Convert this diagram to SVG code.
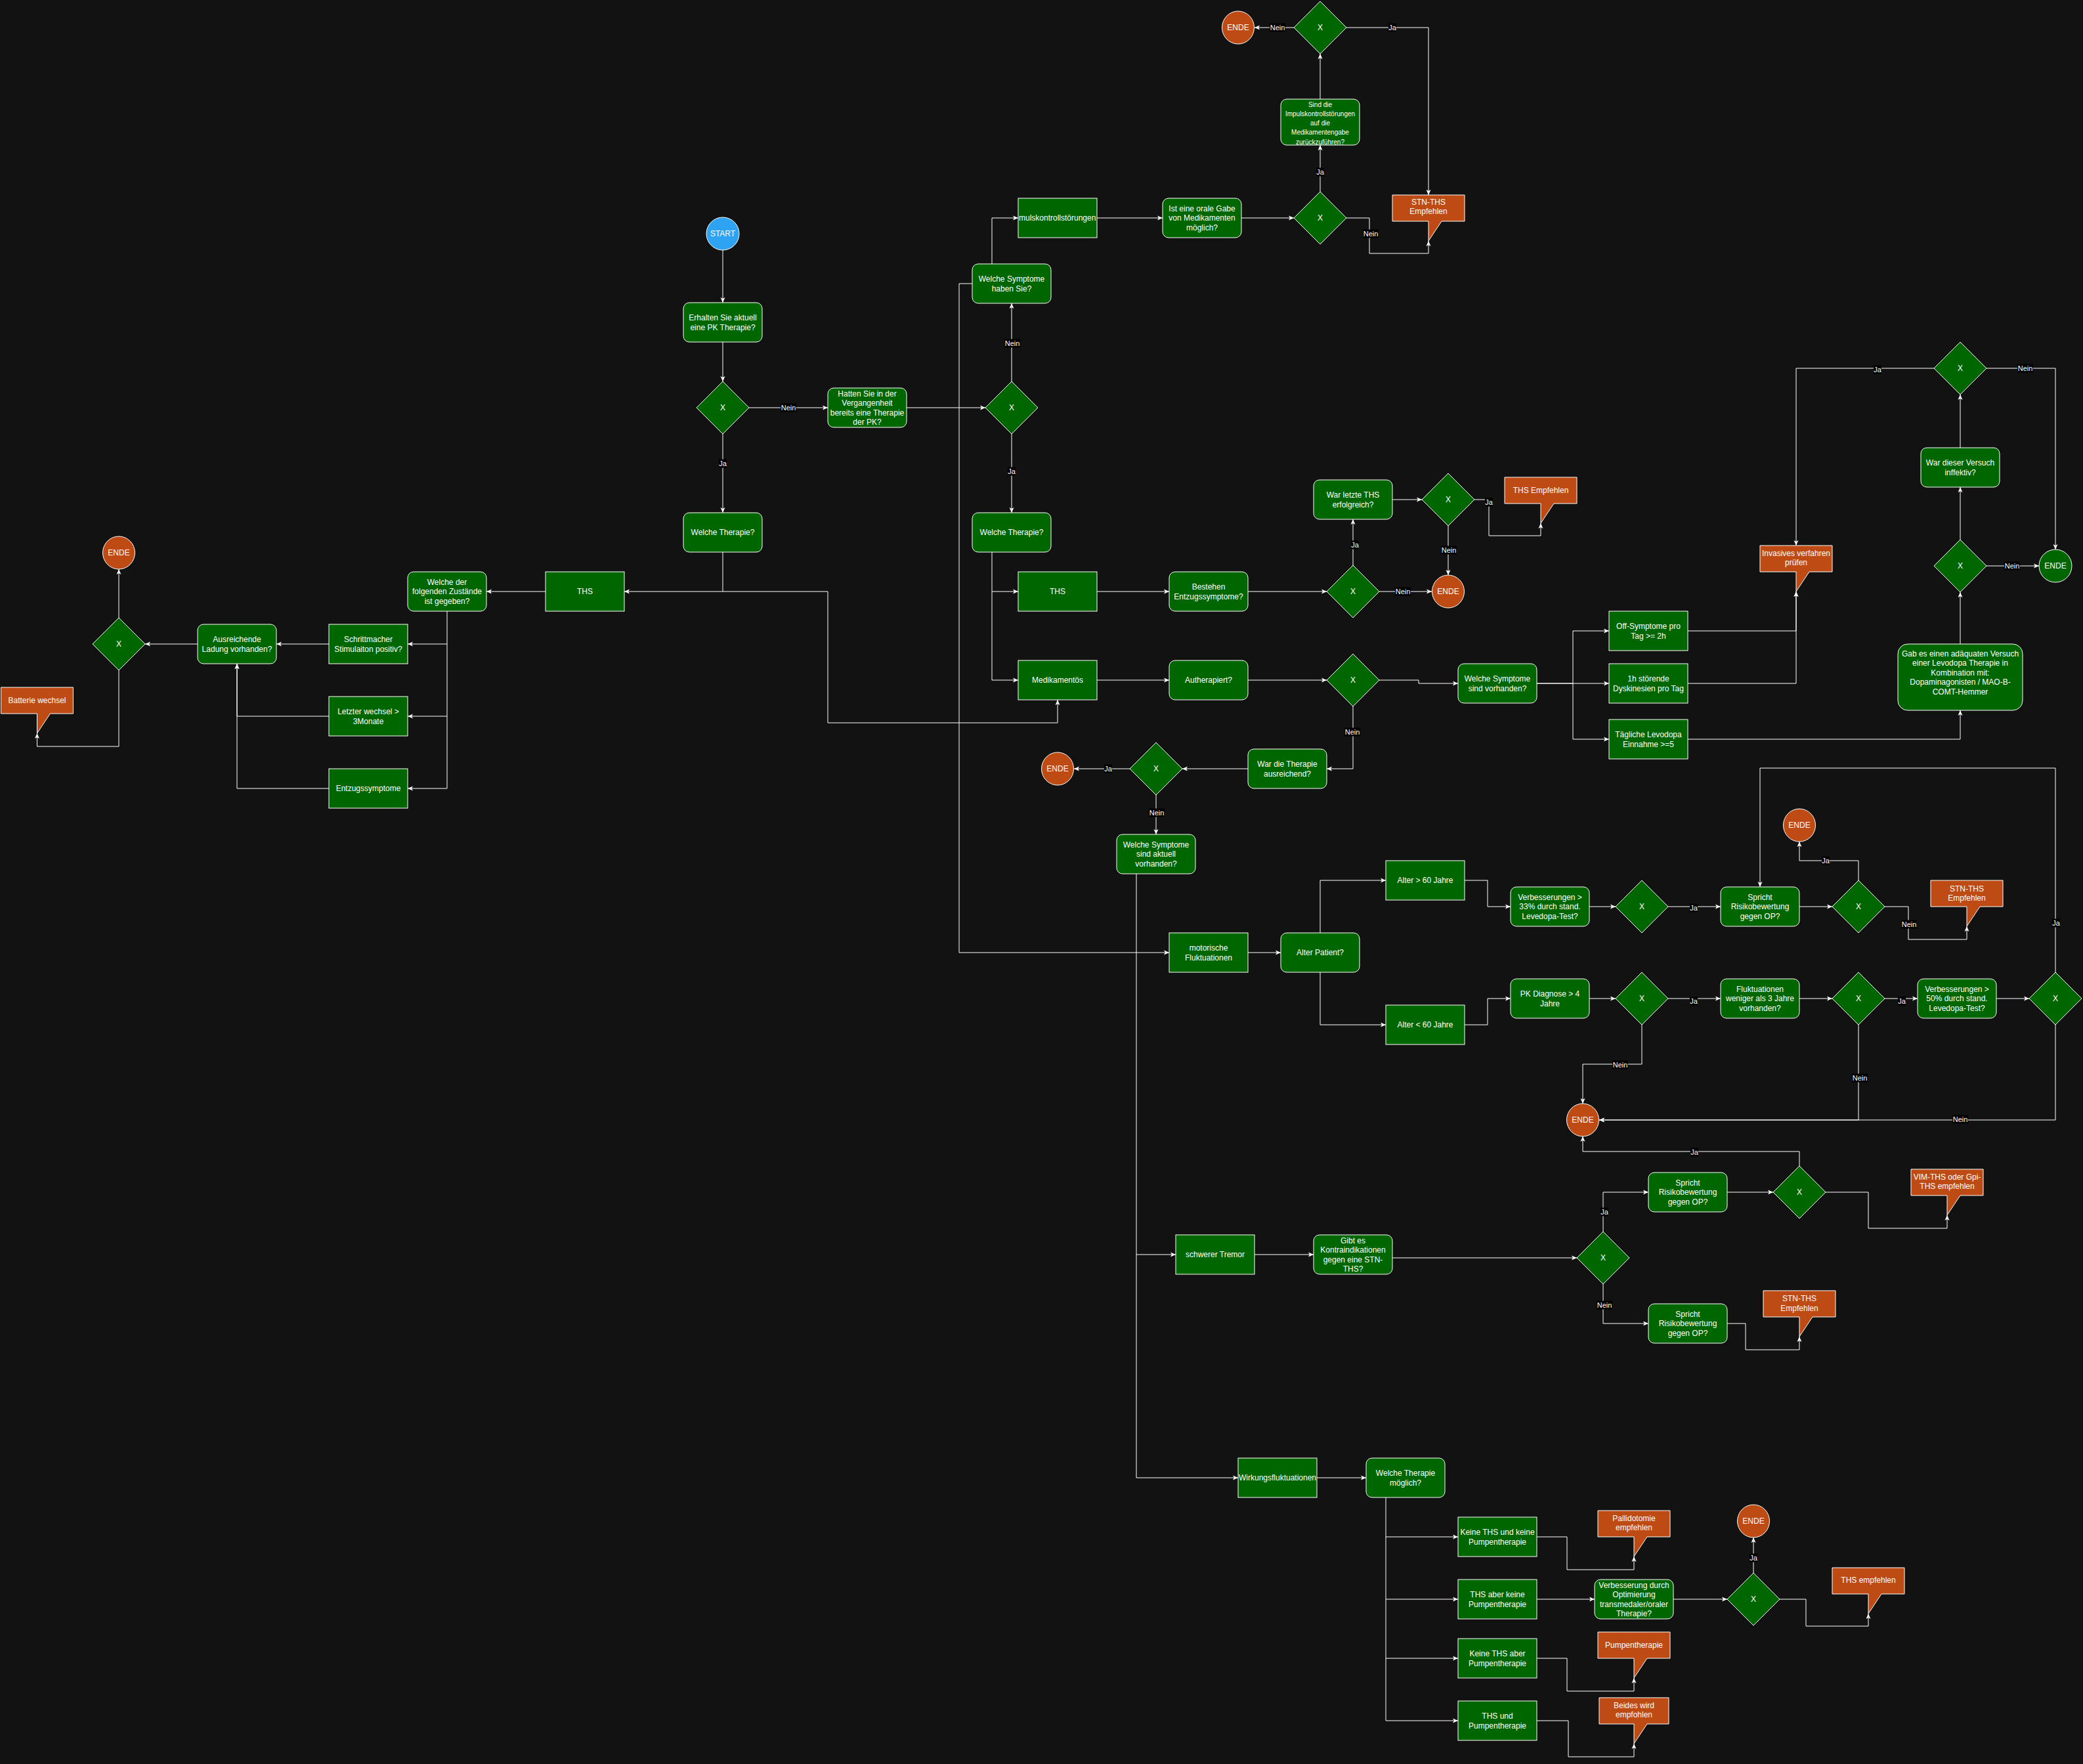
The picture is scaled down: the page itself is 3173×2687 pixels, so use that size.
<svg xmlns="http://www.w3.org/2000/svg" width="3173" height="2687" viewBox="0 0 3173 2687">
<defs>
<marker id="a" markerUnits="userSpaceOnUse" markerWidth="10" markerHeight="10" viewBox="0 0 10 10" refX="9" refY="5" orient="auto"><path d="M1,1.5 L9,5 L1,8.5 L3,5 Z" fill="#fff"/></marker>
<style>
.n{fill:#006600;stroke:#fff;stroke-width:1}
.o{fill:#BE4B14;stroke:#fff;stroke-width:1}
.b{fill:#2EA3F2;stroke:#fff;stroke-width:1}
.t{font-family:"Liberation Sans",Arial,Helvetica,sans-serif;font-size:12px;fill:#fff;text-anchor:middle}
.s{font-size:10px}
.e{fill:none;stroke:#fff;stroke-width:1;marker-end:url(#a)}
.lr{fill:#000}
.lt{font-family:"Liberation Sans",Arial,Helvetica,sans-serif;font-size:11px;fill:#fff;text-anchor:middle}
</style>
</defs>
<rect width="3173" height="2687" fill="#121212"/>
<g id="connectors">
<path class="e" d="M1101,381V461"/>
<path class="e" d="M1101,521V581"/>
<path class="e" d="M1141,621H1261"/>
<path class="e" d="M1101,661V781"/>
<path class="e" d="M1381,621H1501"/>
<path class="e" d="M1541,581V462"/>
<path class="e" d="M1541,661V781"/>
<path class="e" d="M1511,402V332H1551"/>
<path class="e" d="M1671,332H1771"/>
<path class="e" d="M1891,332H1971"/>
<path class="e" d="M2011,292V221"/>
<path class="e" d="M2011,151V82"/>
<path class="e" d="M1971,42H1911"/>
<path class="e" d="M2051,42H2176V297"/>
<path class="e" d="M2051,332H2086V386H2176V367"/>
<path class="e" d="M1481,432H1461V1451H1781"/>
<path class="e" d="M1101,841V901H951"/>
<path class="e" d="M1101,901H1261V1101H1611V1066"/>
<path class="e" d="M831,901H741"/>
<path class="e" d="M681,931V981H621"/>
<path class="e" d="M681,981V1091H621"/>
<path class="e" d="M681,1091V1201H621"/>
<path class="e" d="M501,981H421"/>
<path class="e" d="M501,1091H361V1011"/>
<path class="e" d="M501,1201H361V1011"/>
<path class="e" d="M301,981H221"/>
<path class="e" d="M181,941V867"/>
<path class="e" d="M181,1021V1137H56.5V1117"/>
<path class="e" d="M1511,841V901H1551"/>
<path class="e" d="M1511,901V1036H1551"/>
<path class="e" d="M1671,901H1781"/>
<path class="e" d="M1901,901H2021"/>
<path class="e" d="M2101,901H2181"/>
<path class="e" d="M2061,861V791"/>
<path class="e" d="M2121,761H2166"/>
<path class="e" d="M2206,801V876"/>
<path class="e" d="M2246,761H2268V816H2347V797"/>
<path class="e" d="M1671,1036H1781"/>
<path class="e" d="M1901,1036H2021"/>
<path class="e" d="M2101,1036H2161V1041H2221"/>
<path class="e" d="M2061,1076V1171H2021"/>
<path class="e" d="M1901,1171H1801"/>
<path class="e" d="M1721,1171H1636"/>
<path class="e" d="M1761,1211V1271"/>
<path class="e" d="M2341,1041H2396V961H2451"/>
<path class="e" d="M2341,1041H2451"/>
<path class="e" d="M2396,1041V1126H2451"/>
<path class="e" d="M2571,961H2736V901"/>
<path class="e" d="M2571,1041H2736V901"/>
<path class="e" d="M2571,1126H2986V1082"/>
<path class="e" d="M2986,981V902"/>
<path class="e" d="M3026,862H3106"/>
<path class="e" d="M2986,822V742"/>
<path class="e" d="M2986,682V601"/>
<path class="e" d="M2946,561H2736V831"/>
<path class="e" d="M3026,561H3131V837"/>
<path class="e" d="M1731,1331V1911H1791"/>
<path class="e" d="M1731,1911V2251H1886"/>
<path class="e" d="M1901,1451H1951"/>
<path class="e" d="M2011,1421V1341H2111"/>
<path class="e" d="M2011,1481V1561H2111"/>
<path class="e" d="M2231,1341H2266V1381H2301"/>
<path class="e" d="M2421,1381H2461"/>
<path class="e" d="M2541,1381H2621"/>
<path class="e" d="M2741,1381H2791"/>
<path class="e" d="M2831,1341V1311H2741V1282"/>
<path class="e" d="M2871,1381H2907V1431H2996V1411"/>
<path class="e" d="M2231,1561H2266V1521H2301"/>
<path class="e" d="M2421,1521H2461"/>
<path class="e" d="M2541,1521H2621"/>
<path class="e" d="M2741,1521H2791"/>
<path class="e" d="M2871,1521H2921"/>
<path class="e" d="M3041,1521H3091"/>
<path class="e" d="M3131,1481V1170H2681V1351"/>
<path class="e" d="M2501,1561V1621H2411V1681"/>
<path class="e" d="M2831,1561V1706H2436"/>
<path class="e" d="M3131,1561V1706H2436"/>
<path class="e" d="M1911,1911H2001"/>
<path class="e" d="M2121,1916H2402"/>
<path class="e" d="M2442,1876V1816H2511"/>
<path class="e" d="M2442,1956V2016H2511"/>
<path class="e" d="M2631,1816H2701"/>
<path class="e" d="M2741,1776V1754H2411V1731"/>
<path class="e" d="M2781,1816H2846V1871H2966V1851"/>
<path class="e" d="M2631,2016H2659V2056H2741V2036"/>
<path class="e" d="M2006,2251H2081"/>
<path class="e" d="M2111,2281V2341H2221"/>
<path class="e" d="M2111,2341V2436H2221"/>
<path class="e" d="M2111,2436V2526H2221"/>
<path class="e" d="M2111,2526V2621H2221"/>
<path class="e" d="M2341,2341H2387V2391H2489V2371"/>
<path class="e" d="M2341,2436H2429"/>
<path class="e" d="M2549,2436H2631"/>
<path class="e" d="M2671,2396V2342"/>
<path class="e" d="M2711,2436H2751V2477H2846V2458"/>
<path class="e" d="M2341,2526H2387V2576H2489V2556"/>
<path class="e" d="M2341,2621H2389V2676H2489V2656"/>
<g id="labels">
<rect class="lr" x="1189" y="614.5" width="24" height="13"/><text class="lt" x="1201" y="625">Nein</text>
<rect class="lr" x="1095" y="699.5" width="12" height="13"/><text class="lt" x="1101" y="710">Ja</text>
<rect class="lr" x="1530" y="516.5" width="24" height="13"/><text class="lt" x="1542" y="527">Nein</text>
<rect class="lr" x="1535" y="711.5" width="12" height="13"/><text class="lt" x="1541" y="722">Ja</text>
<rect class="lr" x="2005" y="255.5" width="12" height="13"/><text class="lt" x="2011" y="266">Ja</text>
<rect class="lr" x="1934" y="35.5" width="24" height="13"/><text class="lt" x="1946" y="46">Nein</text>
<rect class="lr" x="2115" y="35.5" width="12" height="13"/><text class="lt" x="2121" y="46">Ja</text>
<rect class="lr" x="2076" y="349.5" width="24" height="13"/><text class="lt" x="2088" y="360">Nein</text>
<rect class="lr" x="2125" y="894.5" width="24" height="13"/><text class="lt" x="2137" y="905">Nein</text>
<rect class="lr" x="2058" y="823.5" width="12" height="13"/><text class="lt" x="2064" y="834">Ja</text>
<rect class="lr" x="2195" y="831.5" width="24" height="13"/><text class="lt" x="2207" y="842">Nein</text>
<rect class="lr" x="2262" y="758.5" width="12" height="13"/><text class="lt" x="2268" y="769">Ja</text>
<rect class="lr" x="2048" y="1108.5" width="24" height="13"/><text class="lt" x="2060" y="1119">Nein</text>
<rect class="lr" x="1682" y="1164.5" width="12" height="13"/><text class="lt" x="1688" y="1175">Ja</text>
<rect class="lr" x="1750" y="1231.5" width="24" height="13"/><text class="lt" x="1762" y="1242">Nein</text>
<rect class="lr" x="3053" y="855.5" width="24" height="13"/><text class="lt" x="3065" y="866">Nein</text>
<rect class="lr" x="2854" y="556.5" width="12" height="13"/><text class="lt" x="2860" y="567">Ja</text>
<rect class="lr" x="3073" y="554.5" width="24" height="13"/><text class="lt" x="3085" y="565">Nein</text>
<rect class="lr" x="2574" y="1376.5" width="12" height="13"/><text class="lt" x="2580" y="1387">Ja</text>
<rect class="lr" x="2775" y="1304.5" width="12" height="13"/><text class="lt" x="2781" y="1315">Ja</text>
<rect class="lr" x="2896" y="1401.5" width="24" height="13"/><text class="lt" x="2908" y="1412">Nein</text>
<rect class="lr" x="2574" y="1518.5" width="12" height="13"/><text class="lt" x="2580" y="1529">Ja</text>
<rect class="lr" x="2891" y="1518.5" width="12" height="13"/><text class="lt" x="2897" y="1529">Ja</text>
<rect class="lr" x="3126" y="1399.5" width="12" height="13"/><text class="lt" x="3132" y="1410">Ja</text>
<rect class="lr" x="2456" y="1615.5" width="24" height="13"/><text class="lt" x="2468" y="1626">Nein</text>
<rect class="lr" x="2821" y="1635.5" width="24" height="13"/><text class="lt" x="2833" y="1646">Nein</text>
<rect class="lr" x="2974" y="1698.5" width="24" height="13"/><text class="lt" x="2986" y="1709">Nein</text>
<rect class="lr" x="2438" y="1839.5" width="12" height="13"/><text class="lt" x="2444" y="1850">Ja</text>
<rect class="lr" x="2432" y="1981.5" width="24" height="13"/><text class="lt" x="2444" y="1992">Nein</text>
<rect class="lr" x="2575" y="1748.5" width="12" height="13"/><text class="lt" x="2581" y="1759">Ja</text>
<rect class="lr" x="2665" y="2366.5" width="12" height="13"/><text class="lt" x="2671" y="2377">Ja</text>
</g>
</g>
<g id="start"><circle class="b" cx="1101" cy="356" r="25"/><text class="t" x="1101" y="360.3">START</text></g>
<g id="erhalten"><rect class="n" x="1041" y="461" width="120" height="60" rx="9"/><text class="t" x="1101" y="488.1"><tspan x="1101">Erhalten Sie aktuell</tspan><tspan x="1101" dy="14.4">eine PK Therapie?</tspan></text></g>
<g id="d1"><polygon class="n" points="1101,581 1141,621 1101,661 1061,621"/><text class="t" x="1101" y="625.3">X</text></g>
<g id="hatten"><rect class="n" x="1261" y="591" width="120" height="60" rx="9"/><text class="t" x="1321" y="603.7"><tspan x="1321">Hatten Sie in der</tspan><tspan x="1321" dy="14.4">Vergangenheit</tspan><tspan x="1321" dy="14.4">bereits eine Therapie</tspan><tspan x="1321" dy="14.4">der PK?</tspan></text></g>
<g id="d2"><polygon class="n" points="1541,581 1581,621 1541,661 1501,621"/><text class="t" x="1541" y="625.3">X</text></g>
<g id="welche-therapie-l"><rect class="n" x="1041" y="781" width="120" height="60" rx="9"/><text class="t" x="1101" y="815.3">Welche Therapie?</text></g>
<g id="welche-therapie-r"><rect class="n" x="1481" y="781" width="120" height="60" rx="9"/><text class="t" x="1541" y="815.3">Welche Therapie?</text></g>
<g id="welche-symptome"><rect class="n" x="1481" y="402" width="120" height="60" rx="9"/><text class="t" x="1541" y="429.1"><tspan x="1541">Welche Symptome</tspan><tspan x="1541" dy="14.4">haben Sie?</tspan></text></g>
<g id="impuls"><rect class="n" x="1551" y="302" width="120" height="60"/><text class="t" x="1552" y="336.3" style="text-anchor:start">mulskontrollstörungen</text></g>
<g id="orale"><rect class="n" x="1771" y="302" width="120" height="60" rx="9"/><text class="t" x="1831" y="321.9"><tspan x="1831">Ist eine orale Gabe</tspan><tspan x="1831" dy="14.4">von Medikamenten</tspan><tspan x="1831" dy="14.4">möglich?</tspan></text></g>
<g id="d3"><polygon class="n" points="2011,292 2051,332 2011,372 1971,332"/><text class="t" x="2011" y="336.3">X</text></g>
<g id="sind"><rect class="n" x="1951" y="151" width="120" height="70" rx="9"/><text class="t s" x="2011" y="162.5"><tspan x="2011">Sind die</tspan><tspan x="2011" dy="14.3">Impulskontrollstörungen</tspan><tspan x="2011" dy="14.3">auf die</tspan><tspan x="2011" dy="14.3">Medikamentengabe</tspan><tspan x="2011" dy="14.3">zurückzuführen?</tspan></text></g>
<g id="d4"><polygon class="n" points="2011,2 2051,42 2011,82 1971,42"/><text class="t" x="2011" y="46.3">X</text></g>
<g id="ende1"><ellipse class="o" cx="1886" cy="42" rx="24.5" ry="25"/><text class="t" x="1886" y="46.3">ENDE</text></g>
<g id="stn-ths-1"><path class="o" d="M2121,297H2231V337H2196L2176,367V337H2121Z"/><text class="t" x="2176" y="312"><tspan x="2176">STN-THS</tspan><tspan x="2176" dy="14.4">Empfehlen</tspan></text></g>
<g id="ths-l"><rect class="n" x="831" y="871" width="120" height="60"/><text class="t" x="891" y="905.3">THS</text></g>
<g id="welche-der"><rect class="n" x="621" y="871" width="120" height="60" rx="9"/><text class="t" x="681" y="890.9"><tspan x="681">Welche der</tspan><tspan x="681" dy="14.4">folgenden Zustände</tspan><tspan x="681" dy="14.4">ist gegeben?</tspan></text></g>
<g id="schrittmacher"><rect class="n" x="501" y="951" width="120" height="60"/><text class="t" x="561" y="978.1"><tspan x="561">Schrittmacher</tspan><tspan x="561" dy="14.4">Stimulaiton positiv?</tspan></text></g>
<g id="letzter"><rect class="n" x="501" y="1061" width="120" height="60"/><text class="t" x="561" y="1088.1"><tspan x="561">Letzter wechsel &gt;</tspan><tspan x="561" dy="14.4">3Monate</tspan></text></g>
<g id="entzug"><rect class="n" x="501" y="1171" width="120" height="60"/><text class="t" x="561" y="1205.3">Entzugssymptome</text></g>
<g id="ausreichend"><rect class="n" x="301" y="951" width="120" height="60" rx="9"/><text class="t" x="361" y="978.1"><tspan x="361">Ausreichende</tspan><tspan x="361" dy="14.4">Ladung vorhanden?</tspan></text></g>
<g id="d5"><polygon class="n" points="181,941 221,981 181,1021 141,981"/><text class="t" x="181" y="985.3">X</text></g>
<g id="ende2"><ellipse class="o" cx="181" cy="842" rx="24.5" ry="25"/><text class="t" x="181" y="846.3">ENDE</text></g>
<g id="batterie"><path class="o" d="M1.5,1047H111.5V1087H76.5L56.5,1117V1087H1.5Z"/><text class="t" x="56.5" y="1070.5">Batterie wechsel</text></g>
<g id="ths-r"><rect class="n" x="1551" y="871" width="120" height="60"/><text class="t" x="1611" y="905.3">THS</text></g>
<g id="bestehen"><rect class="n" x="1781" y="871" width="120" height="60" rx="9"/><text class="t" x="1841" y="898.1"><tspan x="1841">Bestehen</tspan><tspan x="1841" dy="14.4">Entzugssymptome?</tspan></text></g>
<g id="d6"><polygon class="n" points="2061,861 2101,901 2061,941 2021,901"/><text class="t" x="2061" y="905.3">X</text></g>
<g id="ende3"><ellipse class="o" cx="2206" cy="901" rx="24.5" ry="25"/><text class="t" x="2206" y="905.3">ENDE</text></g>
<g id="war-letzte"><rect class="n" x="2001" y="731" width="120" height="60" rx="9"/><text class="t" x="2061" y="758.1"><tspan x="2061">War letzte THS</tspan><tspan x="2061" dy="14.4">erfolgreich?</tspan></text></g>
<g id="d7"><polygon class="n" points="2206,721 2246,761 2206,801 2166,761"/><text class="t" x="2206" y="765.3">X</text></g>
<g id="ths-empfehlen-1"><path class="o" d="M2292,727H2402V767H2367L2347,797V767H2292Z"/><text class="t" x="2347" y="750.5">THS Empfehlen</text></g>
<g id="medikamentoes"><rect class="n" x="1551" y="1006" width="120" height="60"/><text class="t" x="1611" y="1040.3">Medikamentös</text></g>
<g id="autherapiert"><rect class="n" x="1781" y="1006" width="120" height="60" rx="9"/><text class="t" x="1841" y="1040.3">Autherapiert?</text></g>
<g id="d8"><polygon class="n" points="2061,996 2101,1036 2061,1076 2021,1036"/><text class="t" x="2061" y="1040.3">X</text></g>
<g id="welche-symptome-vorh"><rect class="n" x="2221" y="1011" width="120" height="60" rx="9"/><text class="t" x="2281" y="1038.1"><tspan x="2281">Welche Symptome</tspan><tspan x="2281" dy="14.4">sind vorhanden?</tspan></text></g>
<g id="war-therapie"><rect class="n" x="1901" y="1141" width="120" height="60" rx="9"/><text class="t" x="1961" y="1168.1"><tspan x="1961">War die Therapie</tspan><tspan x="1961" dy="14.4">ausreichend?</tspan></text></g>
<g id="d9"><polygon class="n" points="1761,1131 1801,1171 1761,1211 1721,1171"/><text class="t" x="1761" y="1175.3">X</text></g>
<g id="ende4"><ellipse class="o" cx="1611" cy="1171" rx="24.5" ry="25"/><text class="t" x="1611" y="1175.3">ENDE</text></g>
<g id="off-symptome"><rect class="n" x="2451" y="931" width="120" height="60"/><text class="t" x="2511" y="958.1"><tspan x="2511">Off-Symptome pro</tspan><tspan x="2511" dy="14.4">Tag &gt;= 2h</tspan></text></g>
<g id="dyskinesien"><rect class="n" x="2451" y="1011" width="120" height="60"/><text class="t" x="2511" y="1038.1"><tspan x="2511">1h störende</tspan><tspan x="2511" dy="14.4">Dyskinesien pro Tag</tspan></text></g>
<g id="levodopa"><rect class="n" x="2451" y="1096" width="120" height="60"/><text class="t" x="2511" y="1123.1"><tspan x="2511">Tägliche Levodopa</tspan><tspan x="2511" dy="14.4">Einnahme &gt;=5</tspan></text></g>
<g id="invasives"><path class="o" d="M2681,831H2791V871H2756L2736,901V871H2681Z"/><text class="t" x="2736" y="847"><tspan x="2736">Invasives verfahren</tspan><tspan x="2736" dy="14.4">prüfen</tspan></text></g>
<g id="gab-es"><rect class="n" x="2891" y="981" width="190" height="101" rx="15"/><text class="t" x="2986" y="1000"><tspan x="2986">Gab es einen adäquaten Versuch</tspan><tspan x="2986" dy="14.4">einer Levodopa Therapie in</tspan><tspan x="2986" dy="14.4">Kombination mit:</tspan><tspan x="2986" dy="14.4">Dopaminagonisten / MAO-B-</tspan><tspan x="2986" dy="14.4">COMT-Hemmer</tspan></text></g>
<g id="d10"><polygon class="n" points="2986,822 3026,862 2986,902 2946,862"/><text class="t" x="2986" y="866.3">X</text></g>
<g id="ende5"><ellipse class="n" cx="3131" cy="862" rx="25" ry="25"/><text class="t" x="3131" y="866.3">ENDE</text></g>
<g id="war-dieser"><rect class="n" x="2926" y="682" width="120" height="60" rx="9"/><text class="t" x="2986" y="709.1"><tspan x="2986">War dieser Versuch</tspan><tspan x="2986" dy="14.4">inffektiv?</tspan></text></g>
<g id="d11"><polygon class="n" points="2986,521 3026,561 2986,601 2946,561"/><text class="t" x="2986" y="565.3">X</text></g>
<g id="welche-symptome-akt"><rect class="n" x="1701" y="1271" width="120" height="60" rx="9"/><text class="t" x="1761" y="1290.9"><tspan x="1761">Welche Symptome</tspan><tspan x="1761" dy="14.4">sind aktuell</tspan><tspan x="1761" dy="14.4">vorhanden?</tspan></text></g>
<g id="motorische"><rect class="n" x="1781" y="1421" width="120" height="60"/><text class="t" x="1841" y="1448.1"><tspan x="1841">motorische</tspan><tspan x="1841" dy="14.4">Fluktuationen</tspan></text></g>
<g id="alter"><rect class="n" x="1951" y="1421" width="120" height="60" rx="9"/><text class="t" x="2011" y="1455.3">Alter Patient?</text></g>
<g id="alter-gt"><rect class="n" x="2111" y="1311" width="120" height="60"/><text class="t" x="2171" y="1345.3">Alter &gt; 60 Jahre</text></g>
<g id="alter-lt"><rect class="n" x="2111" y="1531" width="120" height="60"/><text class="t" x="2171" y="1565.3">Alter &lt; 60 Jahre</text></g>
<g id="verb33"><rect class="n" x="2301" y="1351" width="120" height="60" rx="9"/><text class="t" x="2361" y="1370.9"><tspan x="2361">Verbesserungen &gt;</tspan><tspan x="2361" dy="14.4">33% durch stand.</tspan><tspan x="2361" dy="14.4">Levedopa-Test?</tspan></text></g>
<g id="d12"><polygon class="n" points="2501,1341 2541,1381 2501,1421 2461,1381"/><text class="t" x="2501" y="1385.3">X</text></g>
<g id="spricht1"><rect class="n" x="2621" y="1351" width="120" height="60" rx="9"/><text class="t" x="2681" y="1370.9"><tspan x="2681">Spricht</tspan><tspan x="2681" dy="14.4">Risikobewertung</tspan><tspan x="2681" dy="14.4">gegen OP?</tspan></text></g>
<g id="d13"><polygon class="n" points="2831,1341 2871,1381 2831,1421 2791,1381"/><text class="t" x="2831" y="1385.3">X</text></g>
<g id="ende6"><ellipse class="o" cx="2741" cy="1257" rx="24.5" ry="25"/><text class="t" x="2741" y="1261.3">ENDE</text></g>
<g id="stn-ths-2"><path class="o" d="M2941,1341H3051V1381H3016L2996,1411V1381H2941Z"/><text class="t" x="2996" y="1357.5"><tspan x="2996">STN-THS</tspan><tspan x="2996" dy="14.4">Empfehlen</tspan></text></g>
<g id="pk-diagnose"><rect class="n" x="2301" y="1491" width="120" height="60" rx="9"/><text class="t" x="2361" y="1518.1"><tspan x="2361">PK Diagnose &gt; 4</tspan><tspan x="2361" dy="14.4">Jahre</tspan></text></g>
<g id="d14"><polygon class="n" points="2501,1481 2541,1521 2501,1561 2461,1521"/><text class="t" x="2501" y="1525.3">X</text></g>
<g id="fluktuationen"><rect class="n" x="2621" y="1491" width="120" height="60" rx="9"/><text class="t" x="2681" y="1510.9"><tspan x="2681">Fluktuationen</tspan><tspan x="2681" dy="14.4">weniger als 3 Jahre</tspan><tspan x="2681" dy="14.4">vorhanden?</tspan></text></g>
<g id="d15"><polygon class="n" points="2831,1481 2871,1521 2831,1561 2791,1521"/><text class="t" x="2831" y="1525.3">X</text></g>
<g id="verb50"><rect class="n" x="2921" y="1491" width="120" height="60" rx="9"/><text class="t" x="2981" y="1510.9"><tspan x="2981">Verbesserungen &gt;</tspan><tspan x="2981" dy="14.4">50% durch stand.</tspan><tspan x="2981" dy="14.4">Levedopa-Test?</tspan></text></g>
<g id="d16"><polygon class="n" points="3131,1481 3171,1521 3131,1561 3091,1521"/><text class="t" x="3131" y="1525.3">X</text></g>
<g id="ende7"><ellipse class="o" cx="2411" cy="1706" rx="24.5" ry="25"/><text class="t" x="2411" y="1710.3">ENDE</text></g>
<g id="tremor"><rect class="n" x="1791" y="1881" width="120" height="60"/><text class="t" x="1851" y="1915.3">schwerer Tremor</text></g>
<g id="gibt-es"><rect class="n" x="2001" y="1881" width="120" height="60" rx="9"/><text class="t" x="2061" y="1893.7"><tspan x="2061">Gibt es</tspan><tspan x="2061" dy="14.4">Kontraindikationen</tspan><tspan x="2061" dy="14.4">gegen eine STN-</tspan><tspan x="2061" dy="14.4">THS?</tspan></text></g>
<g id="d17"><polygon class="n" points="2442,1876 2482,1916 2442,1956 2402,1916"/><text class="t" x="2442" y="1920.3">X</text></g>
<g id="spricht2"><rect class="n" x="2511" y="1786" width="120" height="60" rx="9"/><text class="t" x="2571" y="1805.9"><tspan x="2571">Spricht</tspan><tspan x="2571" dy="14.4">Risikobewertung</tspan><tspan x="2571" dy="14.4">gegen OP?</tspan></text></g>
<g id="d18"><polygon class="n" points="2741,1776 2781,1816 2741,1856 2701,1816"/><text class="t" x="2741" y="1820.3">X</text></g>
<g id="vim-ths"><path class="o" d="M2911,1781H3021V1821H2986L2966,1851V1821H2911Z"/><text class="t" x="2966" y="1797"><tspan x="2966">VIM-THS oder Gpi-</tspan><tspan x="2966" dy="14.4">THS empfehlen</tspan></text></g>
<g id="spricht3"><rect class="n" x="2511" y="1986" width="120" height="60" rx="9"/><text class="t" x="2571" y="2005.9"><tspan x="2571">Spricht</tspan><tspan x="2571" dy="14.4">Risikobewertung</tspan><tspan x="2571" dy="14.4">gegen OP?</tspan></text></g>
<g id="stn-ths-3"><path class="o" d="M2686,1966H2796V2006H2761L2741,2036V2006H2686Z"/><text class="t" x="2741" y="1982.3"><tspan x="2741">STN-THS</tspan><tspan x="2741" dy="14.4">Empfehlen</tspan></text></g>
<g id="wirkung"><rect class="n" x="1886" y="2221" width="120" height="60"/><text class="t" x="1946" y="2255.3">Wirkungsfluktuationen</text></g>
<g id="welche-moeglich"><rect class="n" x="2081" y="2221" width="120" height="60" rx="9"/><text class="t" x="2141" y="2248.1"><tspan x="2141">Welche Therapie</tspan><tspan x="2141" dy="14.4">möglich?</tspan></text></g>
<g id="keine-keine"><rect class="n" x="2221" y="2311" width="120" height="60"/><text class="t" x="2281" y="2338.1"><tspan x="2281">Keine THS und keine</tspan><tspan x="2281" dy="14.4">Pumpentherapie</tspan></text></g>
<g id="ths-aber-keine"><rect class="n" x="2221" y="2406" width="120" height="60"/><text class="t" x="2281" y="2433.1"><tspan x="2281">THS aber keine</tspan><tspan x="2281" dy="14.4">Pumpentherapie</tspan></text></g>
<g id="keine-aber"><rect class="n" x="2221" y="2496" width="120" height="60"/><text class="t" x="2281" y="2523.1"><tspan x="2281">Keine THS aber</tspan><tspan x="2281" dy="14.4">Pumpentherapie</tspan></text></g>
<g id="ths-und"><rect class="n" x="2221" y="2591" width="120" height="60"/><text class="t" x="2281" y="2618.1"><tspan x="2281">THS und</tspan><tspan x="2281" dy="14.4">Pumpentherapie</tspan></text></g>
<g id="pallidotomie"><path class="o" d="M2434,2301H2544V2341H2509L2489,2371V2341H2434Z"/><text class="t" x="2489" y="2317"><tspan x="2489">Pallidotomie</tspan><tspan x="2489" dy="14.4">empfehlen</tspan></text></g>
<g id="verbesserung-opt"><rect class="n" x="2429" y="2406" width="120" height="60" rx="9"/><text class="t" x="2489" y="2418.7"><tspan x="2489">Verbesserung durch</tspan><tspan x="2489" dy="14.4">Optimierung</tspan><tspan x="2489" dy="14.4">transmedaler/oraler</tspan><tspan x="2489" dy="14.4">Therapie?</tspan></text></g>
<g id="d19"><polygon class="n" points="2671,2396 2711,2436 2671,2476 2631,2436"/><text class="t" x="2671" y="2440.3">X</text></g>
<g id="ende8"><ellipse class="o" cx="2671" cy="2317" rx="24.5" ry="25"/><text class="t" x="2671" y="2321.3">ENDE</text></g>
<g id="ths-empfehlen-2"><path class="o" d="M2791,2388H2901V2428H2866L2846,2458V2428H2791Z"/><text class="t" x="2846" y="2411">THS empfehlen</text></g>
<g id="pumpentherapie"><path class="o" d="M2434,2486H2544V2526H2509L2489,2556V2526H2434Z"/><text class="t" x="2489" y="2510">Pumpentherapie</text></g>
<g id="beides"><path class="o" d="M2436,2586H2542V2626H2509L2489,2656V2626H2436Z"/><text class="t" x="2489" y="2602"><tspan x="2489">Beides wird</tspan><tspan x="2489" dy="14.4">empfohlen</tspan></text></g>
</svg>
